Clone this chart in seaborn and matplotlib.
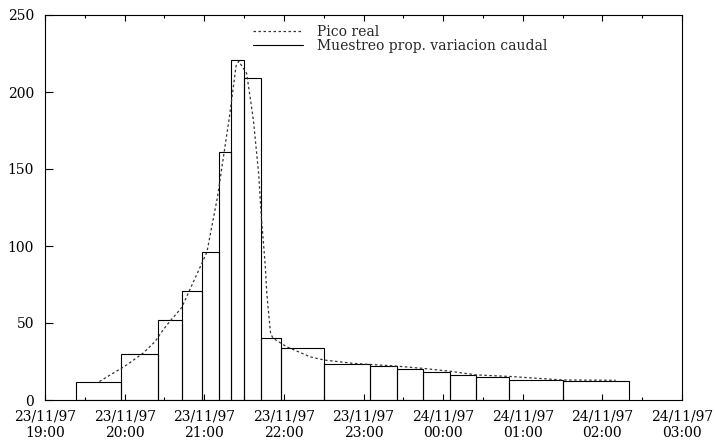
import matplotlib
matplotlib.use('Agg')
import matplotlib.pyplot as plt
import matplotlib.dates as mdates
from matplotlib.lines import Line2D
import numpy as np
import pandas as pd
import seaborn as sns

# Sampling intervals (edges) and the value kept for each interval
sample_edges = ['1997-11-23 19:23', '1997-11-23 19:57', '1997-11-23 20:25', '1997-11-23 20:43',
                '1997-11-23 20:58', '1997-11-23 21:11', '1997-11-23 21:20', '1997-11-23 21:30',
                '1997-11-23 21:43', '1997-11-23 21:58', '1997-11-23 22:30', '1997-11-23 23:05',
                '1997-11-23 23:25', '1997-11-23 23:45', '1997-11-24 00:05', '1997-11-24 00:25',
                '1997-11-24 00:50', '1997-11-24 01:30', '1997-11-24 02:20']
sample_values = [12, 30, 52, 71, 96, 161, 221, 209, 40, 33.5, 23.5, 22.3, 20.1, 18.4, 16, 15.1, 13, 12.3]

# Real peak (dotted curve)
peak_times = ['1997-11-23 19:41', '1997-11-23 20:02', '1997-11-23 20:14', '1997-11-23 20:23',
              '1997-11-23 20:29', '1997-11-23 20:34', '1997-11-23 20:43', '1997-11-23 21:02',
              '1997-11-23 21:10', '1997-11-23 21:19', '1997-11-23 21:24', '1997-11-23 21:26',
              '1997-11-23 21:32', '1997-11-23 21:37', '1997-11-23 21:41', '1997-11-23 21:43',
              '1997-11-23 21:46', '1997-11-23 21:47', '1997-11-23 21:48', '1997-11-23 21:50',
              '1997-11-23 21:52', '1997-11-23 22:02', '1997-11-23 22:20', '1997-11-23 22:30',
              '1997-11-23 22:52', '1997-11-23 23:25', '1997-11-23 23:45', '1997-11-24 00:05',
              '1997-11-24 00:25', '1997-11-24 00:50', '1997-11-24 01:30', '1997-11-24 02:10']
peak_values = [12, 23, 30.5, 38, 45.5, 51, 60, 96, 132, 184, 217, 220, 212, 182, 147, 119,
               87, 71, 61, 43, 40, 34.6, 28, 26, 23.8, 22, 20.5, 18.7, 16.3, 15.3, 13, 12.8]

x_range = ['1997-11-23 19:00', '1997-11-24 03:00']
legend_labels = ['Pico real', 'Muestreo prop. variacion caudal']

sns.set_style('ticks')
plt.rcParams['font.family'] = ['DejaVu Serif']
plt.rcParams['axes.edgecolor'] = 'black'
plt.rcParams['xtick.color'] = 'black'
plt.rcParams['ytick.color'] = 'black'

fig = plt.figure(figsize=(7.16, 4.41), dpi=100)
ax = fig.add_axes([45 / 716, 41 / 441, 637 / 716, 385 / 441])

# Sampled flow as rectangles
edges = mdates.date2num(pd.to_datetime(sample_edges))
ax.bar(edges[:-1], sample_values, width=np.diff(edges), align='edge',
       fill=False, edgecolor='black', linewidth=0.8)

# Real peak
peak = pd.DataFrame({'t': mdates.date2num(pd.to_datetime(peak_times)), 'q': peak_values})
sns.lineplot(data=peak, x='t', y='q', ax=ax, color='#333333',
             linestyle=(0, (2, 2)), linewidth=0.9)

ax.set_xlim(mdates.date2num(pd.to_datetime(x_range)))
ax.set_ylim(0, 250)
ax.set_yticks(np.arange(0, 251, 50))
ax.xaxis.set_major_locator(mdates.HourLocator())
ax.xaxis.set_minor_locator(mdates.MinuteLocator(byminute=[30]))
ax.xaxis.set_major_formatter(mdates.DateFormatter('%d/%m/%y\n%H:%M'))
ax.set_xlabel('')
ax.set_ylabel('')

for side in ax.spines.values():
    side.set_linewidth(0.8)

ax.tick_params(axis='x', which='both', direction='in', top=True, bottom=True, pad=7,
               labelsize=10, width=0.8)
ax.tick_params(axis='x', which='major', length=4.5)
ax.tick_params(axis='x', which='minor', length=2.2)
ax.tick_params(axis='y', direction='in', left=True, right=False, length=6, pad=8,
               labelsize=10, width=0.8)

handles = [Line2D([], [], color='#333333', linestyle=(0, (2, 2)), linewidth=0.9),
           Line2D([], [], color='black', linewidth=0.8)]
ax.legend(handles, legend_labels, loc='upper left', bbox_to_anchor=(0.327, 0.975),
          frameon=False, handlelength=3.6, handletextpad=1.0, labelspacing=0.0,
          borderpad=0, borderaxespad=0, fontsize=10)

fig.savefig('out.png', dpi=100)
